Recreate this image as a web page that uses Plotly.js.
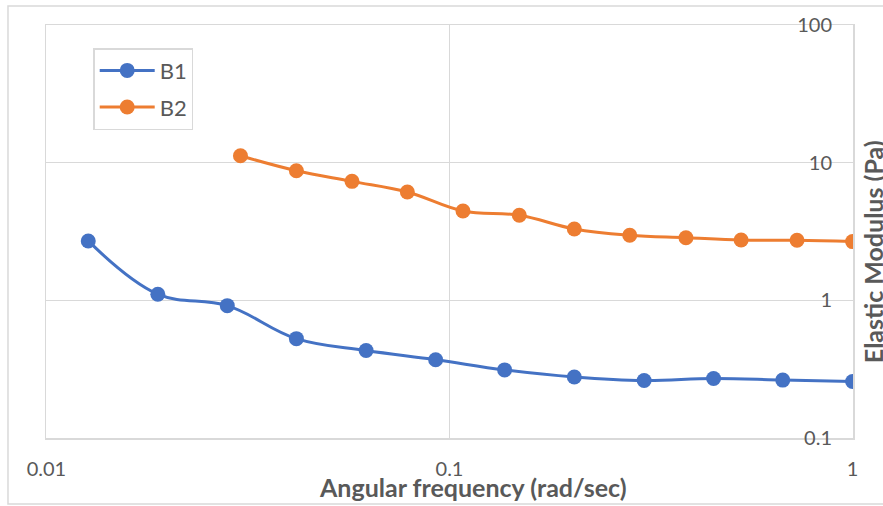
<!DOCTYPE html>
<html>
<head>
<meta charset="utf-8">
<script src="https://cdn.plot.ly/plotly-3.0.1.min.js"></script>
<style>
  html, body { margin: 0; padding: 0; background: #ffffff; }
  #chart { width: 883px; height: 506px; }
</style>
</head>
<body>
<div id="chart"></div>
<script>
// Angular frequency sweep (rad/sec) and elastic modulus (Pa) for two samples
const b1Freq = [0.0127, 0.0189, 0.0281, 0.0417, 0.0621, 0.0924, 0.137, 0.204, 0.304, 0.452, 0.671, 1.0];
const b1Modulus = [2.70, 1.107, 0.914, 0.526, 0.431, 0.370, 0.312, 0.277, 0.261, 0.270, 0.263, 0.257];

const b2Freq = [0.0303, 0.0417, 0.0573, 0.0786, 0.108, 0.149, 0.204, 0.280, 0.386, 0.529, 0.728, 1.0];
const b2Modulus = [11.23, 8.75, 7.32, 6.12, 4.46, 4.15, 3.30, 2.97, 2.85, 2.74, 2.73, 2.67];

const seriesNames = ['B1', 'B2'];
const xTickValues = [0.01, 0.1, 1];
const xTickLabels = ['0.01', '0.1', '1'];
const yTickValues = [0.1, 1, 10, 100];
const yTickLabels = ['0.1', '1', '10', '100'];

const xTitle = 'Angular frequency (rad/sec)';
const yTitle = 'Elastic Modulus (Pa)';

const FONT = 'Lato, "Open Sans", sans-serif';
const GREY_TEXT = '#595959';
const GRID = '#d9d9d9';

function series(x, y, name, color, group) {
  return {
    x: x, y: y, name: name, type: 'scatter', mode: 'lines+markers',
    legendgroup: group,
    line: { color: color, width: 3, shape: 'spline', smoothing: 1.1 },
    marker: { color: color, size: 15 }
  };
}

const data = [
  series(b1Freq, b1Modulus, seriesNames[0], '#4472C4', 'g1'),
  series(b2Freq, b2Modulus, seriesNames[1], '#ED7D31', 'g2')
];

const layout = {
  width: 883, height: 506,
  margin: { l: 46, r: 30, t: 25, b: 68 },
  paper_bgcolor: '#ffffff', plot_bgcolor: '#ffffff',
  font: { family: FONT, color: GREY_TEXT, size: 20 },
  showlegend: true,
  legend: {
    x: 0.0585, y: 0.944, xanchor: 'left', yanchor: 'top',
    bordercolor: GRID, borderwidth: 1.5, bgcolor: '#ffffff',
    font: { family: FONT, size: 22, color: GREY_TEXT },
    traceorder: 'grouped', tracegroupgap: 5,
    itemwidth: 55
  },
  xaxis: {
    type: 'log', range: [-2.001, 0.001],
    tickvals: xTickValues, ticktext: xTickLabels,
    showgrid: true, gridcolor: GRID, gridwidth: 1.5,
    zeroline: false, showline: true, mirror: true, linecolor: GRID, linewidth: 1.5,
    ticks: '',
    ticklabelstandoff: 12,
    ticklabeloverflow: 'allow',
    tickfont: { family: FONT, size: 20, color: GREY_TEXT },
    fixedrange: true
  },
  yaxis: {
    type: 'log', range: [-1.001, 2.001], side: 'right',
    tickvals: yTickValues, ticktext: yTickLabels,
    ticklabelposition: 'inside',
    ticklabelstandoff: 22,
    ticklabeloverflow: 'allow',
    showgrid: true, gridcolor: GRID, gridwidth: 1.5,
    zeroline: false, showline: true, mirror: true, linecolor: GRID, linewidth: 1.5,
    ticks: '',
    tickfont: { family: FONT, size: 20, color: GREY_TEXT },
    fixedrange: true
  },
  annotations: [
    {
      text: '<b>' + xTitle + '</b>', xref: 'paper', yref: 'paper',
      x: 0.529, y: -0.118, xanchor: 'center', yanchor: 'middle',
      showarrow: false, font: { family: FONT, size: 25, color: GREY_TEXT }
    },
    {
      text: '<b>' + yTitle + '</b>', xref: 'paper', yref: 'paper',
      x: 1.0248, y: 0.45, xanchor: 'center', yanchor: 'middle', textangle: -90,
      showarrow: false, font: { family: FONT, size: 25, color: GREY_TEXT }
    }
  ],
  shapes: [
    {
      // outer chart-area frame
      type: 'rect', xref: 'paper', yref: 'paper',
      x0: -0.0471, x1: 1.045, y0: -0.1598, y1: 1.046,
      line: { color: GRID, width: 1.5 }, layer: 'below'
    }
  ]
};

Plotly.newPlot('chart', data, layout, { displayModeBar: false, staticPlot: true });
</script>
</body>
</html>
